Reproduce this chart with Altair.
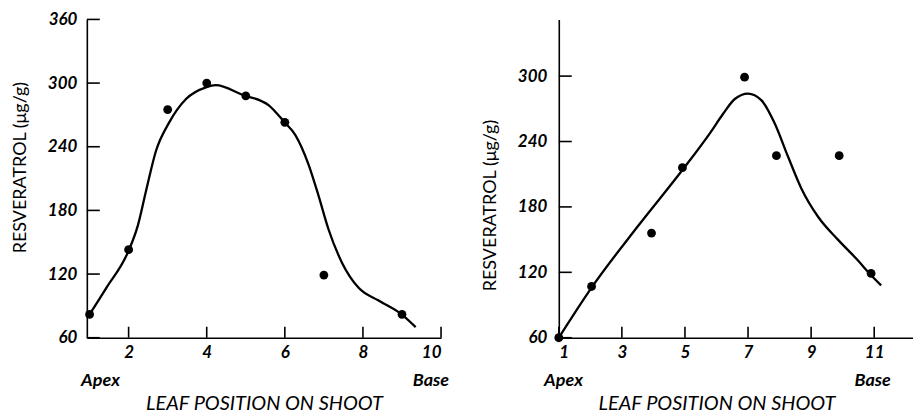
import altair as alt
import pandas as pd

# ---------------- data ----------------
# Left panel
left_pts_x = [1, 2, 3, 4, 5, 6, 7, 9]
left_pts_y = [82, 143, 275, 300, 288, 263, 119, 82]
left_curve_x = [1, 1.43, 2, 2.23, 2.45, 2.70, 3.04, 3.47, 3.98, 4.23, 4.91, 5.59, 5.97,
                6.27, 6.61, 6.87, 7.12, 7.46, 7.89, 8.40, 8.99, 9.35]
left_curve_y = [82, 107, 142, 165, 199, 236, 263, 285, 296, 298, 289, 279, 264,
                251, 223, 193, 162, 131, 107, 95, 82, 70]
left_xticks = [2, 4, 6, 8, 10]
left_yticks = [60, 120, 180, 240, 300, 360]

# Right panel
right_pts_x = [1, 2.04, 3.94, 4.92, 6.89, 7.90, 9.89, 10.9]
right_pts_y = [60, 107, 156, 216, 299, 227, 227, 119]
right_curve_x = [1, 2.04, 3.5, 4.95, 5.8, 6.2, 6.58, 7.0, 7.42, 7.84, 8.27, 8.69, 9.22,
                 9.85, 10.48, 10.85, 11.22]
right_curve_y = [60, 106, 162, 215, 248, 265, 279, 284, 278, 257, 226, 197, 171,
                 150, 131, 119, 108]
right_xticks = [1, 3, 5, 7, 9, 11]
right_yticks = [60, 120, 180, 240, 300]

end_labels = ["Apex", "Base"]
left_end_x = [1.28, 9.74]
right_end_x = [1.15, 10.95]

X_TITLE = "LEAF POSITION ON SHOOT"
Y_TITLE = "RESVERATROL (\u03bcg/g)"
FONT = "Lato"


def panel(px, py, cx, cy, xdomain, xticks, ydomain, yticks, endx, width, height,
          ylabel_pad, ytitle_pad, ytitle_y, title_x=None):
    pts = pd.DataFrame({"x": px, "y": py})
    curve = pd.DataFrame({"x": cx, "y": cy})
    xtick_df = pd.DataFrame({"tx": xticks})
    ytick_df = pd.DataFrame({"ty": yticks})
    end_df = pd.DataFrame({"ex": endx, "label": end_labels})

    xs = alt.Scale(domain=xdomain, nice=False, zero=False)
    ys = alt.Scale(domain=ydomain, nice=False, zero=False)
    xax_kw = dict(values=xticks, ticks=False, title=X_TITLE, labelPadding=7,
                  titlePadding=33, labelFontSize=17, labelFontWeight="bold",
                  labelFontStyle="italic", titleFontSize=20, titleFontWeight="normal",
                  titleFontStyle="italic", format="d", labelOverlap=False)
    if title_x is not None:
        xax_kw["titleX"] = title_x
    xax = alt.Axis(**xax_kw)
    yax = alt.Axis(values=yticks, title=Y_TITLE, ticks=False, labelPadding=ylabel_pad,
                   titlePadding=ytitle_pad, labelFontSize=17, labelFontWeight="bold",
                   labelFontStyle="italic", titleFontSize=18, titleFontWeight="normal",
                   titleY=ytitle_y, format="d", labelOverlap=False)

    line = alt.Chart(curve).mark_line(color="black", strokeWidth=2.3, interpolate="monotone").encode(
        x=alt.X("x:Q", scale=xs, axis=xax),
        y=alt.Y("y:Q", scale=ys, axis=yax),
    )
    points = alt.Chart(pts).mark_circle(color="black", size=78, opacity=1).encode(
        x=alt.X("x:Q", scale=xs), y=alt.Y("y:Q", scale=ys)
    )
    xticks_l = alt.Chart(xtick_df).mark_rule(color="black", strokeWidth=1.6).encode(
        x=alt.X("tx:Q", scale=xs), y=alt.value(height - 11), y2=alt.value(height)
    )
    yticks_l = alt.Chart(ytick_df).mark_rule(color="black", strokeWidth=1.6).encode(
        y=alt.Y("ty:Q", scale=ys), x=alt.value(0), x2=alt.value(13)
    )
    ends = alt.Chart(end_df).mark_text(font=FONT, fontSize=18, fontWeight="bold",
                                       fontStyle="italic", color="black").encode(
        x=alt.X("ex:Q", scale=xs), y=alt.value(height + 43), text="label:N"
    )
    return alt.layer(line, points, xticks_l, yticks_l, ends).properties(width=width, height=height)


left = panel(left_pts_x, left_pts_y, left_curve_x, left_curve_y, [0.93, 10], left_xticks,
             [60, 360], left_yticks, left_end_x, 355, 319, 10, 18, 148)
right = panel(right_pts_x, right_pts_y, right_curve_x, right_curve_y, [1, 12.23], right_xticks,
              [60, 352], right_yticks, right_end_x, 355, 319, 12, 18, 186, title_x=158)

chart = alt.hconcat(left, right, spacing=31).properties(
    background="white", padding={"left": 3, "top": 2, "right": 0, "bottom": 0}
).configure_view(stroke=None).configure_axis(
    domainColor="black", domainWidth=1.6, tickColor="black",
    labelColor="black", titleColor="black", grid=False, labelFont=FONT, titleFont=FONT,
)

chart.save("out.html", embed_options={"renderer": "svg", "actions": False})
